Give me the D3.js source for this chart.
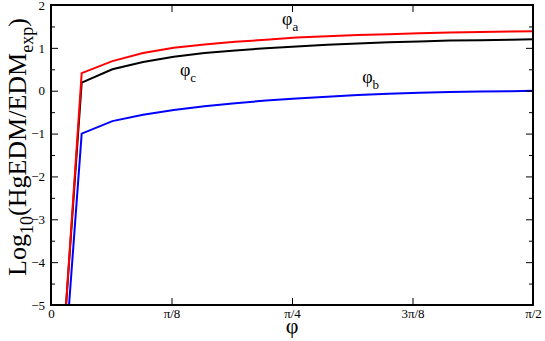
<!DOCTYPE html>
<html>
<head>
<meta charset="utf-8">
<script src="https://cdn.jsdelivr.net/npm/d3@7"></script>
<style>
  body { margin: 0; background: #fff; }
  text { font-family: "Liberation Serif", "DejaVu Serif", serif; }
</style>
</head>
<body>
<div id="chart"></div>
<script>
const phi = [0, 0.1, 0.2, 0.3, 0.4, 0.5, 0.6, 0.7, 0.8, 0.9, 1.0, 1.1, 1.2, 1.3, 1.4, 1.5, Math.PI / 2];
const phiA = [-10.2, 0.41, 0.69, 0.88, 1.0, 1.08, 1.14, 1.19, 1.24, 1.27, 1.30, 1.32, 1.34, 1.36, 1.37, 1.38, 1.39];
const phiC = [-10.0, 0.19, 0.50, 0.67, 0.79, 0.88, 0.94, 0.99, 1.03, 1.07, 1.10, 1.13, 1.15, 1.17, 1.18, 1.19, 1.20];
const phiB = [-10.7, -1.0, -0.71, -0.56, -0.45, -0.36, -0.29, -0.23, -0.18, -0.14, -0.10, -0.07, -0.05, -0.03, -0.02, -0.01, 0.0];
const xTickVals = [0, Math.PI / 8, Math.PI / 4, 3 * Math.PI / 8, Math.PI / 2];
const xTickLabels = ['0', 'π/8', 'π/4', '3π/8', 'π/2'];
const yTicks = [-5, -4, -3, -2, -1, 0, 1, 2];

const W = 545, H = 341;
const margin = { top: 5, right: 12, bottom: 36, left: 51 };
const width = W - margin.left - margin.right;
const height = H - margin.top - margin.bottom;

const svg = d3.select('#chart').append('svg')
  .attr('width', W).attr('height', H);
const g = svg.append('g').attr('transform', `translate(${margin.left},${margin.top})`);

const x = d3.scaleLinear().domain([0, Math.PI / 2]).range([0, width]);
const y = d3.scaleLinear().domain([-5, 2]).range([height, 0]);

g.append('clipPath').attr('id', 'clip')
  .append('rect').attr('width', width).attr('height', height);

const series = [
  { vals: phiA, color: '#ff0000' },
  { vals: phiC, color: '#000000' },
  { vals: phiB, color: '#0000ff' },
];
const line = d3.line().x(d => x(d[0])).y(d => y(d[1]));

// black first, then blue, red on top
[series[1], series[2], series[0]].forEach(s => {
  g.append('path')
    .datum(phi.map((p, i) => [p, s.vals[i]]))
    .attr('clip-path', 'url(#clip)')
    .attr('fill', 'none')
    .attr('stroke', s.color)
    .attr('stroke-width', 2)
    .attr('d', line);
});

// ticks pointing inward on all four sides
const xFmt = (d, i) => xTickLabels[i];
g.append('g').attr('transform', `translate(0,${height})`)
  .call(d3.axisBottom(x).tickValues(xTickVals).tickSize(-7).tickPadding(4).tickFormat(xFmt));
g.append('g')
  .call(d3.axisTop(x).tickValues(xTickVals).tickSize(-7).tickFormat(''));
g.append('g')
  .call(d3.axisLeft(y).tickValues(yTicks).tickSize(-7).tickPadding(6).tickFormat(d3.format('d')));
g.append('g')
  .call(d3.axisLeft(y).tickValues(d3.range(-4.5, 2, 1)).tickSize(-4).tickFormat(''));
g.append('g').attr('transform', `translate(${width},0)`)
  .call(d3.axisRight(y).tickValues(yTicks).tickSize(-7).tickFormat(''));
g.append('g').attr('transform', `translate(${width},0)`)
  .call(d3.axisRight(y).tickValues(d3.range(-4.5, 2, 1)).tickSize(-4).tickFormat(''));

g.selectAll('.domain').remove();
g.selectAll('.tick line').attr('stroke', '#000').attr('stroke-width', 1);
g.selectAll('.tick text')
  .attr('font-family', '"Liberation Serif", serif')
  .attr('font-size', 13).attr('fill', '#000');

g.append('rect')
  .attr('width', width).attr('height', height)
  .attr('fill', 'none').attr('stroke', '#000').attr('stroke-width', 2);

// curve labels
const lab = (px, py, sub) => {
  const t = g.append('text')
    .attr('x', px).attr('y', py)
    .attr('font-size', 18).attr('fill', '#000');
  t.append('tspan').text('φ');
  t.append('tspan').attr('font-size', 13).attr('dy', 6).text(sub);
};
lab(x(0.753), y(1.53), 'a');
lab(x(1.014), y(0.19), 'b');
lab(x(0.42), y(0.35), 'c');

// axis titles
svg.append('text')
  .attr('x', margin.left + width / 2).attr('y', 333)
  .attr('text-anchor', 'middle')
  .attr('font-size', 22).text('φ');

const yl = svg.append('text')
  .attr('transform', `translate(26,${147}) rotate(-90)`)
  .attr('text-anchor', 'middle')
  .attr('font-size', 26);
yl.append('tspan').text('Log');
yl.append('tspan').attr('font-size', 18).attr('dy', 7).text('10');
yl.append('tspan').attr('dy', -7).text('(HgEDM/EDM');
yl.append('tspan').attr('font-size', 18).attr('dy', 7).text('exp');
yl.append('tspan').attr('dy', -7).text(')');
</script>
</body>
</html>
